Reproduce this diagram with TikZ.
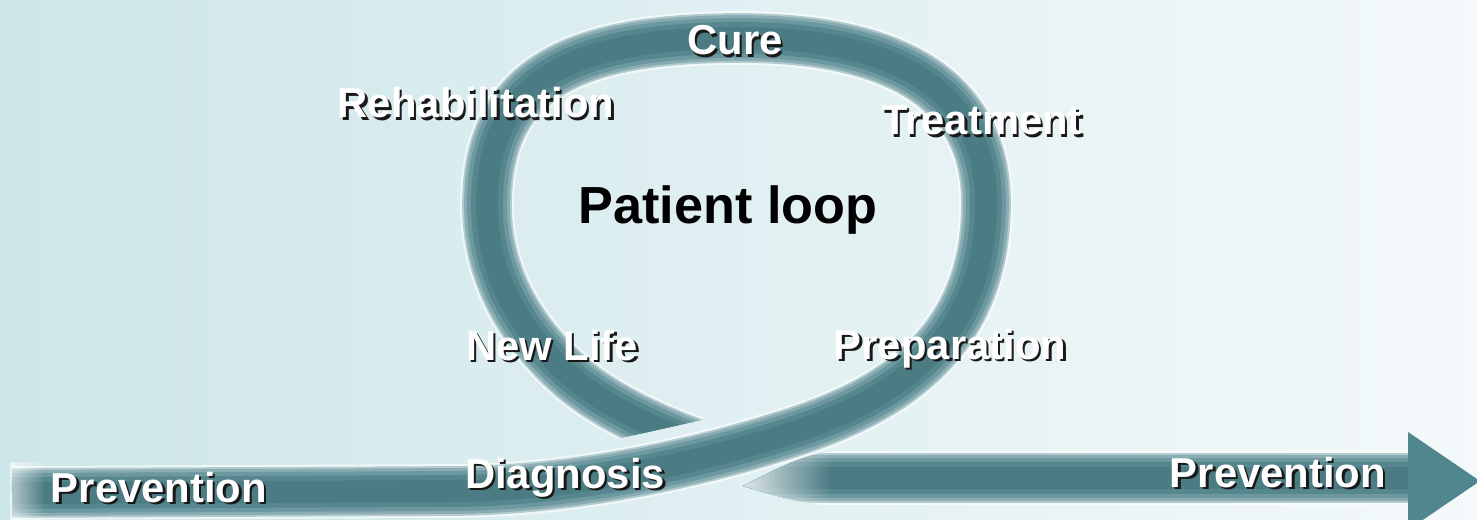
\documentclass[tikz,border=0pt]{standalone}
\usepackage{fontspec}
\setmainfont{Liberation Sans}
\usetikzlibrary{fadings}
\definecolor{bgL}{RGB}{205,230,233}
\definecolor{bgR}{RGB}{244,249,250}
\definecolor{bandA}{RGB}{178,203,207}
\definecolor{bandB}{RGB}{138,172,178}
\definecolor{bandC}{RGB}{108,152,159}
\definecolor{bandD}{RGB}{87,135,142}
\definecolor{bandE}{RGB}{75,124,132}
\definecolor{headcol}{RGB}{80,134,141}
\tikzset{
  halo/.style={draw=white, draw opacity=.65, line width=30.6pt},
  layA/.style={draw=bandA, line width=28.3pt},
  layB/.style={draw=bandB, line width=26.1pt},
  layC/.style={draw=bandC, line width=22.7pt},
  layD/.style={draw=bandD, line width=18.1pt},
  layE/.style={draw=bandE, line width=12.5pt},
  lab/.style={font=\fontsize{23.8}{28}\selectfont\bfseries, text=white, inner sep=0pt, anchor=base},
  labsh/.style={lab, text=black!90},
  title/.style={font=\fontsize{29.7}{34}\selectfont\bfseries, text=black, inner sep=0pt, anchor=base},
}
\newcommand\bandlayers[1]{%
  \path[halo] #1; \path[layA] #1; \path[layB] #1;
  \path[layC] #1; \path[layD] #1; \path[layE] #1;}
\newcommand\shlabel[4]{%
  \node[labsh] (#1-s) at (#2+2.4,#3+2.4) {#4};
  \node[lab] (#1) at (#2,#3) {#4};}
\begin{document}
\begin{tikzpicture}[x=0.02cm, y=-0.02cm]
\useasboundingbox (0,0) rectangle (1477,520);
\clip (0,0) rectangle (1477,520);
\shade[left color=bgL, right color=bgR] (0,0) rectangle (1477,520);

% over strand: from the left, across, up the right side to the top
\bandlayers{(12,493) -- (450,491) .. controls (560,491) and (690,467) .. (800,430) .. controls (910,393) and (985,330) .. (986,205) .. controls (987,100) and (910,38) .. (740,38)}
\fill[white, path fading=east, fill opacity=.6] (10,462) rectangle (45,522);

% under strand: from the top down the left side, cut before the crossing
\begin{scope}
  \clip (0,0) -- (1477,0) -- (1477,398) -- (800,398) -- (500,465) -- (0,465) -- cycle;
  \bandlayers{(740,38) .. controls (570,38) and (487,80) .. (487,205) .. controls (487,275) and (520,330) .. (567,373) .. controls (600,403) and (650,427) .. (700,445)}
\end{scope}

% arrow body with pointed tail
\begin{scope}
  \clip (743,486) .. controls (775,470) and (805,453) .. (835,451) -- (1409,451) -- (1409,506) -- (835,506) .. controls (800,504) and (770,494) .. (743,486) -- cycle;
  \bandlayers{(735,478) -- (1409,478)}
  \fill[white, path fading=east, fill opacity=.85] (740,440) rectangle (830,515);
\end{scope}
% arrow head
\fill[headcol] (1408,432) -- (1480,481) -- (1408,530) -- cycle;

\shlabel{cure}{735}{55}{Cure}
\shlabel{rehab}{476}{118}{Rehabilitation}
\shlabel{treat}{982}{135}{Treatment}
\shlabel{newlife}{552}{360}{New Life}
\shlabel{prep}{950}{359}{Preparation}
\shlabel{diag}{565}{488}{Diagnosis}
\shlabel{prevL}{159}{502}{Prevention}
\shlabel{prevR}{1278}{487}{Prevention}
\node[title] (loop) at (728,224) {Patient loop};
\end{tikzpicture}
\end{document}
